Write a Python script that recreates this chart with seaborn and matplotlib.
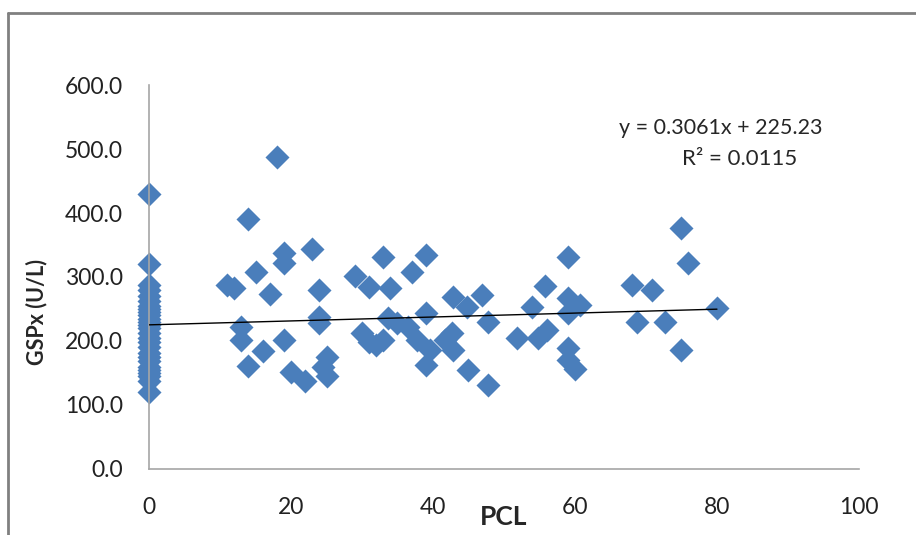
import numpy as np
import pandas as pd
import matplotlib
matplotlib.use("Agg")
import matplotlib.pyplot as plt
from matplotlib.lines import Line2D
import seaborn as sns

# data
pcl_zero = [0] * 27
gspx_zero = [430, 320, 288, 280, 270, 262, 255, 250, 245, 240, 235, 230, 225, 220,
             212, 205, 198, 190, 182, 175, 168, 160, 155, 150, 145, 138, 120]

pcl_rest = [11, 12, 13, 13, 14, 14, 15, 16, 17, 18, 19, 19, 19, 20, 22, 23, 24, 24, 24,
            25, 24.5, 25, 29, 31, 33, 34, 30, 31, 32, 33, 33.7, 35, 36.5, 37, 39, 39,
            37.7, 39.6, 39, 42.8, 44.8, 46.9, 47.7, 42.7, 41.7, 42.8, 44.9, 47.7,
            51.8, 53.9, 55.8, 54.8, 56, 59, 59, 59, 60.7, 59, 59, 60, 68, 70.8, 68.7,
            72.7, 75, 75, 75.9, 80]
gspx_rest = [288, 283, 222, 201, 390, 161, 308, 184, 274, 487, 337, 322, 201, 151, 138,
             343, 279, 237, 228, 175, 160, 145, 301, 285, 331, 283, 212, 199, 194, 202,
             236, 228, 222, 308, 334, 243, 202, 186, 163, 269, 253, 272, 230, 212, 201,
             186, 155, 131, 205, 253, 286, 205, 217, 331, 267, 244, 256, 189, 170, 157,
             288, 280, 230, 230, 186, 377, 322, 252]

slope = 0.3061
intercept = 225.23
trend_x = [0, 80]

df = pd.DataFrame({"PCL": pcl_zero + pcl_rest, "GSPx": gspx_zero + gspx_rest})

sns.set_style("white")
plt.rcParams["font.family"] = ["Lato", "DejaVu Sans"]

fig = plt.figure(figsize=(9.16, 5.35), dpi=100)
ax = fig.add_axes([0.1627, 0.1234, 0.775, 0.7177])

sns.scatterplot(data=df, x="PCL", y="GSPx", ax=ax, marker="D", s=150,
                color="#4A7EBB", edgecolor="#4A7EBB", linewidth=0, zorder=2,
                clip_on=False)
ax.plot(trend_x, np.polyval([slope, intercept], trend_x), color="black", lw=1, zorder=3)

ax.set_xlim(0, 100)
ax.set_ylim(0, 600)
ax.set_xticks(range(0, 101, 20))
ax.set_yticks(range(0, 601, 100))
ax.set_yticklabels([f"{v:.1f}" for v in range(0, 601, 100)])
ax.tick_params(axis="both", length=0, labelsize=16.5, colors="#222222")
ax.tick_params(axis="x", pad=20)
ax.tick_params(axis="y", pad=19)
for side in ["top", "right"]:
    ax.spines[side].set_visible(False)
for side in ["left", "bottom"]:
    ax.spines[side].set_color("#A6A6A6")
    ax.spines[side].set_linewidth(1.2)

ax.set_xlabel("PCL", fontsize=19, fontweight="bold", labelpad=-9)
ax.set_ylabel("GSPx (U/L)", fontsize=15.5, fontweight="bold", labelpad=6)
ax.yaxis.set_label_coords(-0.143, 0.41)

ax.text(80.6, 533, "y = 0.3061x + 225.23", fontsize=15.5, ha="center", va="center")
ax.text(83.2, 484, "R² = 0.0115", fontsize=16, ha="center", va="center")

# outer frame (left and top edges visible in the crop)
fig.add_artist(Line2D([0.009, 0.009], [0, 0.976], transform=fig.transFigure,
                      color="#808080", lw=2))
fig.add_artist(Line2D([0.009, 1.0], [0.976, 0.976], transform=fig.transFigure,
                      color="#808080", lw=2))

fig.savefig("out.png", dpi=100)
